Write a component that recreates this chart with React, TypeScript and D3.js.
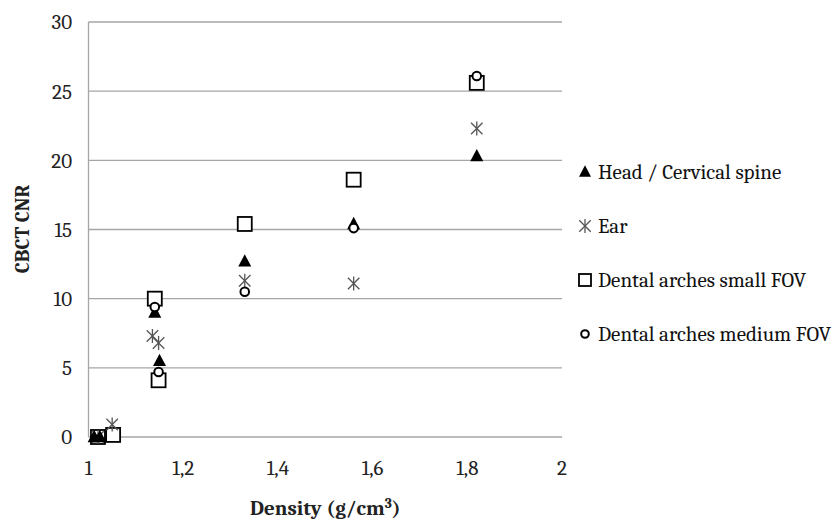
import React from "react";
import * as d3 from "d3";

const W = 839;
const H = 521;

const headX = [1.012, 1.024, 1.14, 1.15, 1.33, 1.56, 1.82];
const headY = [0, 0, 9.0, 5.5, 12.7, 15.4, 20.3];
const earX = [1.02, 1.05, 1.135, 1.148, 1.33, 1.56, 1.82];
const earY = [0, 0.9, 7.3, 6.8, 11.3, 11.1, 22.3];
const smallX = [1.02, 1.052, 1.14, 1.148, 1.33, 1.56, 1.82];
const smallY = [0, 0.15, 10.0, 4.1, 15.4, 18.6, 25.6];
const medX = [1.14, 1.148, 1.33, 1.56, 1.82];
const medY = [9.4, 4.7, 10.5, 15.1, 26.1];

const xTicks = [1, 1.2, 1.4, 1.6, 1.8, 2];
const yTicks = [0, 5, 10, 15, 20, 25, 30];
const legendLabels = [
  "Head / Cervical spine",
  "Ear",
  "Dental arches small FOV",
  "Dental arches medium FOV",
];

const serif = "Cambria, 'DejaVu Serif', serif";

function Tri({ cx, cy, s = 13 }: { cx: number; cy: number; s?: number }) {
  const h = s * 0.95;
  return (
    <path
      d={`M${cx},${cy - h / 2 - 1} L${cx + s / 2},${cy + h / 2 - 1} L${cx - s / 2},${cy + h / 2 - 1} Z`}
      fill="#000"
    />
  );
}
function Star({ cx, cy, r = 7 }: { cx: number; cy: number; r?: number }) {
  const d = r * 0.82;
  return (
    <g stroke="#555" strokeWidth={1.3}>
      <line x1={cx} y1={cy - r} x2={cx} y2={cy + r} />
      <line x1={cx - d} y1={cy - d} x2={cx + d} y2={cy + d} />
      <line x1={cx - d} y1={cy + d} x2={cx + d} y2={cy - d} />
    </g>
  );
}
function Sq({ cx, cy, s = 14 }: { cx: number; cy: number; s?: number }) {
  return (
    <rect x={cx - s / 2} y={cy - s / 2} width={s} height={s} fill="#fff" stroke="#000" strokeWidth={1.8} />
  );
}
function Circ({ cx, cy, r = 4.3 }: { cx: number; cy: number; r?: number }) {
  return <circle cx={cx} cy={cy} r={r} fill="#fff" stroke="#000" strokeWidth={2} />;
}

export default function App() {
  const left = 88.5,
    right = 562,
    top = 22,
    bottom = 437;
  const x = d3.scaleLinear().domain([1, 2]).range([left, right]);
  const y = d3.scaleLinear().domain([0, 30]).range([bottom, top]);
  const fmt = (v: number) => String(v).replace(".", ",");

  const legY = [172, 226, 280, 334];
  const legX = 585;

  return (
    <svg width={W} height={H} style={{ position: "absolute", left: 0, top: 0, background: "#fff" }}>
      {yTicks.map((t) => (
        <line key={"g" + t} x1={left} x2={right} y1={y(t)} y2={y(t)} stroke="#a6a6a6" strokeWidth={1.3} />
      ))}
      <line x1={left} x2={left} y1={top} y2={bottom} stroke="#a6a6a6" strokeWidth={1.3} />
      {yTicks.map((t) => (
        <text key={"yt" + t} x={72} y={y(t)} dy="0.35em" textAnchor="end" fontFamily={serif} fontSize={21} fill="#222">
          {t}
        </text>
      ))}
      {xTicks.map((t) => (
        <text key={"xt" + t} x={x(t)} y={468} dy="0.35em" textAnchor="middle" fontFamily={serif} fontSize={21} fill="#222">
          {fmt(t)}
        </text>
      ))}
      <text
        transform={`translate(22,229) rotate(-90)`}
        textAnchor="middle"
        dy="0.35em"
        fontFamily={serif}
        fontSize={20}
        fontWeight="bold"
        fill="#222"
      >
        CBCT  CNR
      </text>
      <text x={(left + right) / 2} y={508} dy="0.35em" textAnchor="middle" fontFamily={serif} fontSize={21} fontWeight="bold" fill="#222">
        Density (g/cm<tspan dy="-7" fontSize={14}>3</tspan><tspan dy="7">)</tspan>
      </text>

      {smallX.map((v, i) => (
        <Sq key={"s" + i} cx={x(v)} cy={y(smallY[i])} />
      ))}
      {earX.map((v, i) => (
        <Star key={"e" + i} cx={x(v)} cy={y(earY[i])} />
      ))}
      {headX.map((v, i) => (
        <Tri key={"h" + i} cx={x(v)} cy={y(headY[i])} />
      ))}
      {medX.map((v, i) => (
        <Circ key={"m" + i} cx={x(v)} cy={y(medY[i])} />
      ))}

      <Tri cx={legX} cy={legY[0]} s={12} />
      <Star cx={legX} cy={legY[1]} r={7} />
      <Sq cx={legX} cy={legY[2]} s={12} />
      <Circ cx={legX} cy={legY[3]} r={3.8} />
      {legendLabels.map((l, i) => (
        <text key={"l" + i} x={598} y={legY[i]} dy="0.35em" fontFamily={serif} fontSize={21} fill="#111">
          {l}
        </text>
      ))}
    </svg>
  );
}
